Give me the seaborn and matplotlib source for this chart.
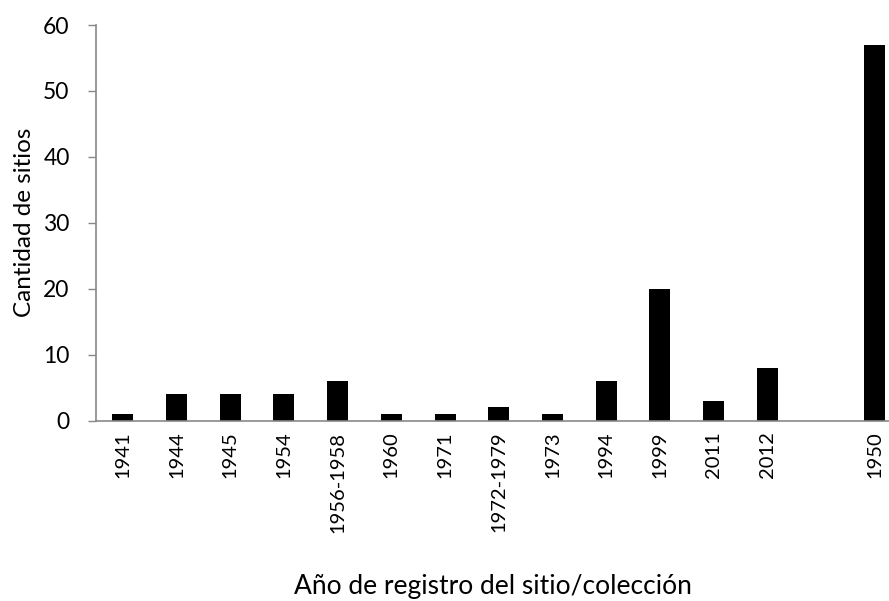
import matplotlib
matplotlib.use("Agg")
import matplotlib.pyplot as plt
import seaborn as sns
import pandas as pd

years = ["1941", "1944", "1945", "1954", "1956-1958", "1960", "1971",
         "1972-1979", "1973", "1994", "1999", "2011", "2012", " ", "1950"]
counts = [1, 4, 4, 4, 6, 1, 1, 2, 1, 6, 20, 3, 8, 0, 57]
y_ticks = [0, 10, 20, 30, 40, 50, 60]

sns.set_theme(style="white")
plt.rcParams["font.family"] = ["Lato", "DejaVu Sans"]

df = pd.DataFrame({"year": years, "count": counts})

fig = plt.figure(figsize=(8.89, 6.01), dpi=100)
ax = fig.add_axes([96/889, 1 - 420.5/601, 1 - 96/889, (420.5 - 25)/601])

sns.barplot(data=df, x="year", y="count", order=years, color="black",
            width=0.39, linewidth=0, saturation=1, ax=ax)

ax.set_xlim(-0.5, -0.5 + (889 - 96)/53.7)
ax.set_ylim(0, 60)
ax.set_yticks(y_ticks)
ax.set_yticklabels([str(t) for t in y_ticks], fontsize=16.5, color="black")
ax.tick_params(axis="y", direction="out", length=6, width=1, color="#888888", pad=13, left=True)
ax.tick_params(axis="x", length=0, pad=8)
for lab in ax.get_xticklabels():
    lab.set_rotation(90)
    lab.set_fontsize(14.5)
    lab.set_color("black")

for s in ["top", "right"]:
    ax.spines[s].set_visible(False)
for s in ["left", "bottom"]:
    ax.spines[s].set_color("#888888")
    ax.spines[s].set_linewidth(1.2)

ax.set_xlabel("Año de registro del sitio/colección", fontsize=19, color="black", labelpad=30)
ax.set_ylabel("Cantidad de sitios", fontsize=17.5, color="black", labelpad=6)

fig.savefig("out.png", dpi=100)
